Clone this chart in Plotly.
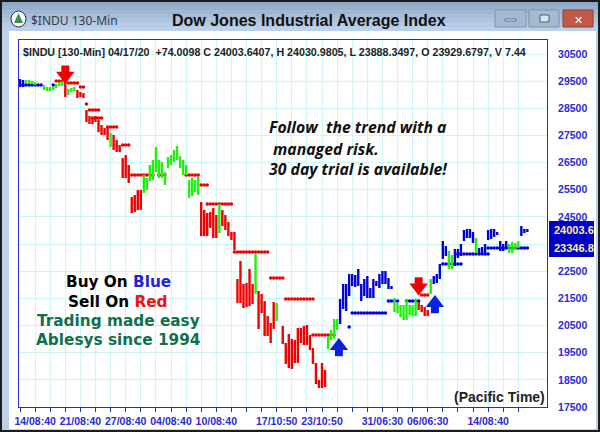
import plotly.graph_objects as go

# ---------- data (prices) ----------
red_idx = [15,19,20,21,22,23,24,25,26,27,28,29,31,32,33,34,35,36,37,38,39,40,60,61,62,63,64,65,67,68,69,70,71,72,73,74,75,76,77,79,80,81,82,83,84,87,88,89,90,91,92,93,94,95,96,97,98,99,100,101,132,133,134,135]
red_low = [28917,28880,28917,28880,27997,27923,27923,27997,27628,27518,27518,27334,26965,26892,26892,25934,25934,25750,24645,24682,24755,24755,23798,23798,23798,24093,23724,23724,24166,24019,23798,23651,23282,21330,21330,21146,21183,21220,21293,20373,20962,20115,20115,19857,20373,19820,19084,18936,18900,19120,19120,19857,19784,19784,19599,19084,18347,18200,18200,18237,21072,20999,20851,20851]
red_high = [29543,29175,29101,29065,28438,28217,28144,28217,28070,27886,27775,27775,27518,27334,27150,26671,26781,26413,25234,25308,25492,25492,25050,24755,24645,24682,24829,24571,24755,24571,24314,23945,23945,22214,22877,22030,22067,22583,22030,21772,21662,21404,20851,20594,21367,20483,19857,20189,20004,19968,20410,20410,20483,20520,20152,19673,19120,18494,19120,18863,21367,21257,21183,21072]

green_idx = [2,3,4,5,8,9,10,11,12,13,14,16,17,18,30,41,42,43,44,45,46,47,48,49,50,51,52,53,54,55,56,57,58,59,66,78,85,102,103,104,105,124,125,126,127,128,129,130,131,136,142,143,151,162,163,164,165]
green_low = [29433,29433,29396,29359,29175,29138,29138,29175,29249,29322,29322,28991,29101,29138,27076,25382,25492,25823,25860,26155,25934,25934,25676,26302,26413,26523,26597,26302,26045,26045,25198,25271,25419,25308,23908,21662,20667,19636,19968,20004,20336,20999,20962,20815,20704,20704,20888,20851,20851,21662,22583,22583,23172,23172,23172,23282,23356]
green_high = [29543,29543,29506,29470,29359,29286,29286,29322,29396,29470,29506,29212,29249,29286,27591,26045,25934,26413,26597,27076,26597,26523,26155,26708,26781,26965,27113,26745,26597,26413,25860,25934,25860,25971,24977,23135,21330,20115,20336,20741,20741,21514,21330,21257,21257,21441,21257,21257,21441,22214,23245,23098,23724,23503,23577,23540,23614]

blue_idx = [0,1,106,107,108,109,110,111,112,113,114,115,116,117,118,119,120,121,122,123,137,138,139,140,141,144,145,146,147,148,149,150,152,153,154,155,156,157,158,159,160,161,166,167,168]
blue_low = [29286,29286,20557,21109,21035,21588,21956,21920,21956,21404,21588,21514,21514,21514,21956,21883,22030,22030,21846,21846,22030,22067,22214,22951,23062,22693,22988,23062,23614,23724,23724,23540,23135,23135,23135,23651,23687,23761,23835,23245,23245,23319,23798,23908,23945]
blue_high = [29580,29543,21478,22030,22030,22398,22398,22362,22583,22030,22214,22325,21883,22214,22141,22398,22509,22509,22251,21956,22325,22398,22767,23614,23430,23319,23319,23503,24019,24056,24056,23945,23356,23393,23503,24019,24056,24056,23945,23614,23503,23614,24166,24056,24056]

red_stop_start = [12,16,20,22,23,24,29,34,37,46,55,60,62,71,83,88,97,133]
red_stop_end = [14,19,21,22,26,27,32,36,44,48,59,62,70,82,87,97,104,135]
red_stop_price = [29506,29433,29286,28660,28438,28144,27812,27150,26045,26045,26045,25676,24977,23208,22251,21478,20152,21625]

blue_stop_start = [0,11,109,110,122,128,140,145,155]
blue_stop_end = [7,11,109,121,125,132,146,155,168]
blue_stop_price = [29359,29359,20446,20962,21404,21404,22767,23135,23356]

sell_arrow_idx = [15,132]
sell_arrow_price = [29700,21900]
buy_arrow_idx = [105.6,137.4]
buy_arrow_price = [19750,21330]

y_ticks = [17500,18500,19500,20500,21500,22500,23500,24500,25500,26500,27500,28500,29500,30500]
y_tick_labels = ["17500","18500","19500","20500","21500","22500","","24500","25500","26500","27500","28500","29500","30500"]
x_label_idx = [5,20,35,50,65,85,100,120,135,155]
x_label_text = ["14/08:40","21/08:40","27/08:40","04/08:40","10/08:40","17/10:50","23/10:50","31/06:30","06/06:30","14/08:40"]
x_tick_idx = list(range(0,170,5))

# ---------- styling / helpers ----------
W, H = 600, 432
L, R, T, B = 19, 547, 40, 407
PAPER_X = lambda px: (px - L) / (R - L)
PAPER_Y = lambda py: (B - py) / (B - T)
RED, GREEN, BLUE = "#f00000", "#22ee11", "#0000dd"
AXIS = "#2a2ad8"

def rect(x0, y0, x1, y1, fill, line=None):
    return dict(type="rect", xref="paper", yref="paper",
                x0=PAPER_X(x0), x1=PAPER_X(x1), y0=PAPER_Y(y0), y1=PAPER_Y(y1),
                fillcolor=fill, line=dict(color=line or fill, width=1 if line else 0), layer="below")

def circle(x0, y0, x1, y1, fill, line=None):
    d = rect(x0, y0, x1, y1, fill, line)
    d["type"] = "circle"
    return d

def text(px, py, s, size, color, family="Liberation Sans", anchor="center", bold=True):
    return dict(xref="paper", yref="paper", x=PAPER_X(px), y=PAPER_Y(py), text=("<b>%s</b>" % s) if bold else s,
                showarrow=False, xanchor=anchor, yanchor="middle",
                font=dict(size=size, color=color, family=family), borderpad=0, borderwidth=0)

def bars(idx, low, high, color):
    xs, ys = [], []
    for i, lo, hi in zip(idx, low, high):
        xs += [i, i, None]
        ys += [lo, hi, None]
    return go.Scatter(x=xs, y=ys, mode="lines", line=dict(color=color, width=2.4), hoverinfo="skip")

def stops(start, end, price, color):
    xs, ys = [], []
    for a, b, p in zip(start, end, price):
        for i in range(a, b + 1):
            xs.append(i)
            ys.append(p)
    return go.Scatter(x=xs, y=ys, mode="markers", marker=dict(color=color, size=3.6), hoverinfo="skip")

def arrows(idx, price, color, head, offset):
    return [
        go.Scatter(x=idx, y=[p + offset for p in price], mode="markers",
                   marker=dict(color=color, symbol="square", size=8), hoverinfo="skip"),
        go.Scatter(x=idx, y=price, mode="markers",
                   marker=dict(color=color, symbol=head, size=16), hoverinfo="skip"),
    ]

fig = go.Figure()
fig.add_trace(stops(red_stop_start, red_stop_end, red_stop_price, RED))
fig.add_trace(stops(blue_stop_start, blue_stop_end, blue_stop_price, BLUE))
fig.add_trace(bars(red_idx, red_low, red_high, RED))
fig.add_trace(bars(green_idx, green_low, green_high, GREEN))
fig.add_trace(bars(blue_idx, blue_low, blue_high, BLUE))
for tr in arrows(sell_arrow_idx, sell_arrow_price, RED, "triangle-down", 230):
    fig.add_trace(tr)
for tr in arrows(buy_arrow_idx, buy_arrow_price, "#0a22e0", "triangle-up", -230):
    fig.add_trace(tr)

shapes = [rect(0, 0, 600, 432, "#1c1c1c")]
shapes.append(rect(2, 2, 598, 430, "#bcd2ea"))
shapes.append(rect(9, 31, 596, 429, "#ffffff"))
bar_cols = ["#8ea8c6", "#96afcb", "#9eb6d1", "#a6bdd7", "#aec4dd", "#b6cae3", "#bcd0e8"]
for k, c in enumerate(bar_cols):
    shapes.append(rect(2, 2 + k * 4.15, 598, 2 + (k + 1) * 4.15, c))
# window controls
shapes.append(rect(495, 10, 526, 27, "#a3bad3", "#7f93aa"))
shapes.append(rect(505, 19, 516, 21, "#e8f0f8", "#5c6f85"))
shapes.append(rect(529, 10, 559, 27, "#a3bad3", "#7f93aa"))
shapes.append(rect(540, 15, 549, 22, "#dce6f0", "#4c5f75"))
shapes.append(rect(563, 10, 593, 27, "#c25a45", "#8f4030"))
# icon
shapes.append(circle(11, 11, 26, 27, "#ffffff", "#1c2c44"))
shapes.append(dict(type="path", xref="paper", yref="paper", layer="below",
                   path="M %f %f L %f %f L %f %f Z" % (PAPER_X(18.5), PAPER_Y(13), PAPER_X(14), PAPER_Y(23), PAPER_X(23), PAPER_Y(23)),
                   fillcolor="#3f8f5a", line=dict(width=0)))
# price boxes
shapes.append(rect(549, 221, 594, 257, "#0000c8"))

annotations = [
    text(31, 20, "$INDU 130-Min", 12, "#333b48", "Noto Sans", "left", bold=False),
    text(308.5, 20, "Dow Jones Industrial Average Index", 16, "#111111"),
    text(578, 20, "✕", 11, "#ffffff", "DejaVu Sans"),
    text(23, 52, "$INDU [130-Min] 04/17/20 &nbsp;+74.0098 C 24003.6407, H 24030.9805, L 23888.3497, O 23929.6797, V 7.44", 10.7, "#222222", anchor="left"),
    text(269, 127, "<i>Follow &nbsp;the trend with a</i>", 15.8, "#111111", "Open Sans", "left"),
    text(273, 149, "<i>managed risk.</i>", 15.8, "#111111", "Open Sans", "left"),
    text(269, 169, "<i>30 day trial is available!</i>", 15.8, "#111111", "Open Sans", "left"),
    text(118, 282, 'Buy On <span style="color:#2222dd">Blue</span>', 15.3, "#000000", "DejaVu Sans"),
    text(118, 302, 'Sell On <span style="color:#ee1111">Red</span>', 15.3, "#000000", "DejaVu Sans"),
    text(118, 321, "Trading made easy", 15.3, "#0f7050", "DejaVu Sans"),
    text(118, 340, "Ablesys since 1994", 15.3, "#0f7050", "DejaVu Sans"),
    text(545, 397, "(Pacific Time)", 14, "#222222", anchor="right"),
    text(554, 230, "24003.6", 11, "#ffee88", anchor="left"),
    text(554, 248, "23346.8", 11, "#ffee88", anchor="left"),
]

x_text = [x_label_text[x_label_idx.index(i)] if i in x_label_idx else "" for i in x_tick_idx]

fig.update_layout(
    width=W, height=H, showlegend=False,
    margin=dict(l=L, r=W - R, t=T, b=H - B, pad=0),
    paper_bgcolor="#ffffff", plot_bgcolor="rgba(0,0,0,0)",
    shapes=shapes, annotations=annotations,
    xaxis=dict(range=[-0.33, 174.5], tickmode="array", tickvals=x_tick_idx, ticktext=x_text, automargin=False,
               ticks="outside", ticklen=4, tickcolor=AXIS, tickwidth=1, showgrid=True, gridcolor="#cdf6f6", gridwidth=1,
               showline=True, linecolor=AXIS, linewidth=1, mirror=True, zeroline=False,
               tickfont=dict(size=10.5, color=AXIS, family="Liberation Sans", weight="bold"), tickangle=0),
    yaxis=dict(range=[17500, 31018], side="right", tickmode="array", tickvals=y_ticks, ticktext=y_tick_labels, automargin=False,
               ticks="", showgrid=True, gridcolor="#cdf6f6", gridwidth=1,
               showline=True, linecolor=AXIS, linewidth=1, mirror=True, zeroline=False,
               ticklabelstandoff=8,
               tickfont=dict(size=10.5, color=AXIS, family="Liberation Sans", weight="bold")),
)

fig.write_html("out.html", config={"displayModeBar": False},
               post_script="document.body.style.margin='0';document.documentElement.style.overflow='hidden';")
